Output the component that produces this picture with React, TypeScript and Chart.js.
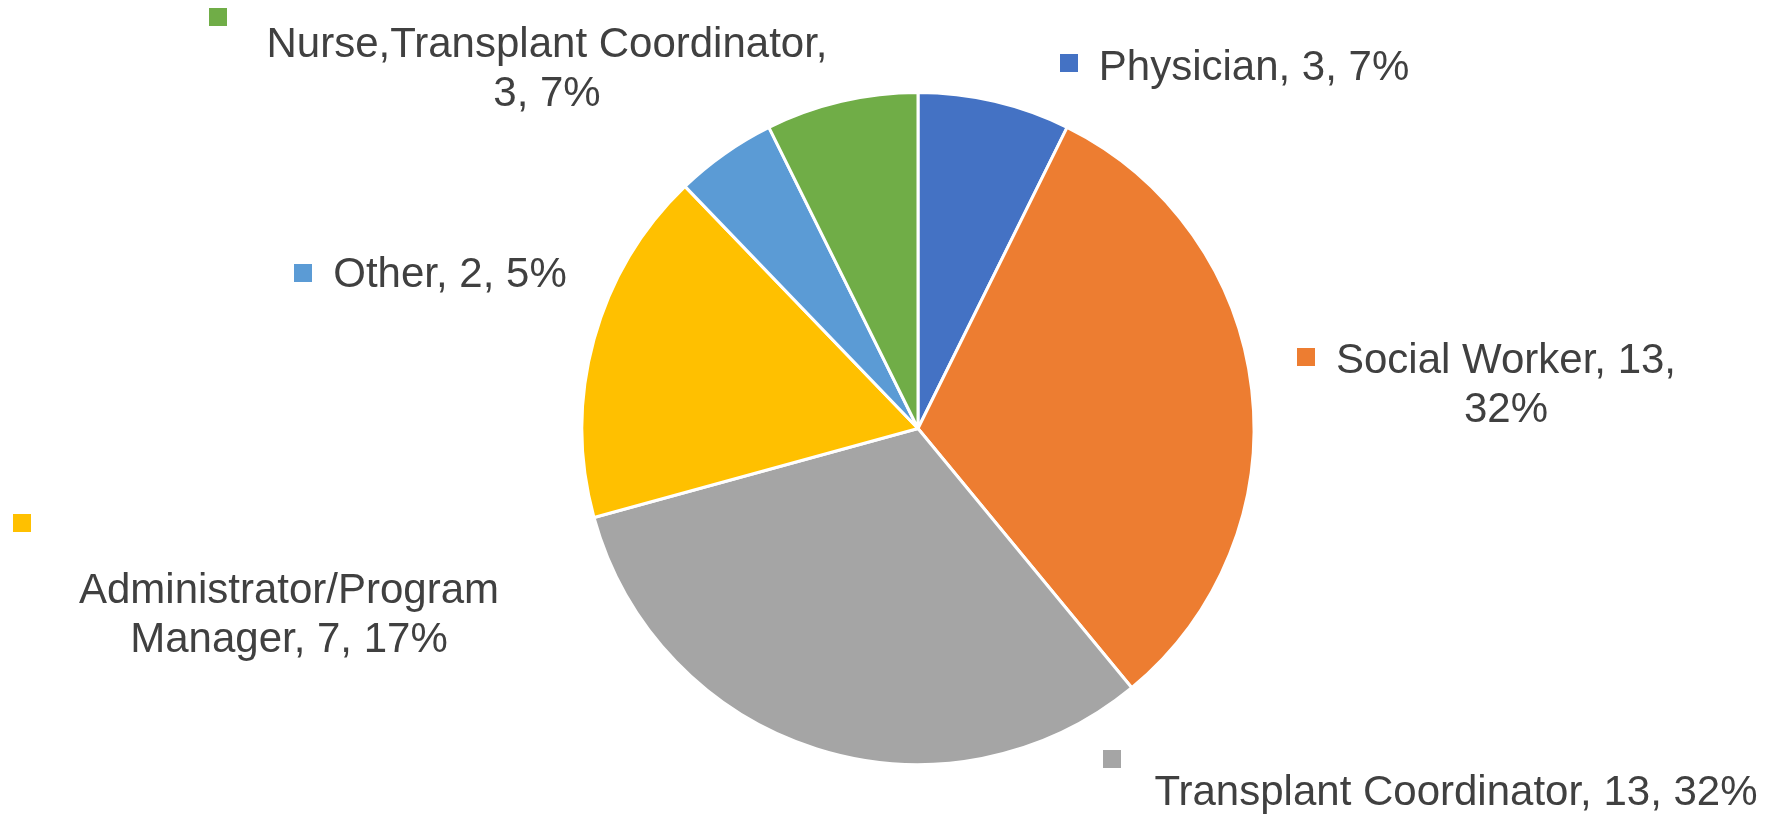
import React, { useEffect, useRef } from "react";
import { Chart, registerables } from "chart.js";

Chart.register(...registerables);

// ---- data ----
const categories: string[] = [
  "Physician",
  "Social Worker",
  "Transplant Coordinator",
  "Administrator/Program Manager",
  "Other",
  "Nurse,Transplant Coordinator",
];
const counts: number[] = [3, 13, 13, 7, 2, 3];
const sliceColors: string[] = ["#4472C4", "#ED7D31", "#A5A5A5", "#FFC000", "#5B9BD5", "#70AD47"];

// ---- label layout (positions only, pixels on the 1776x814 canvas) ----
const labelCenterX: number[] = [1254, 1506, 1456, 289, 450, 547];
const labelBaselineY: number[] = [80, 373, 805, 603, 287, 57];
const labelWrapWidth: number[] = [700, 380, 700, 450, 700, 590];
const keyX: number[] = [1060, 1297, 1103, 13, 294, 209];
const keyY: number[] = [54, 348, 750, 514, 264, 8];

const W = 1776;
const H = 814;
const FONT = '42px "Liberation Sans", Arial, sans-serif';
const LINE_H = 49;
const KEY = 18;

function wrap(ctx: CanvasRenderingContext2D, text: string, maxW: number): string[] {
  const words = text.split(" ");
  const lines: string[] = [];
  let cur = "";
  for (const w of words) {
    const test = cur ? cur + " " + w : w;
    if (cur && ctx.measureText(test).width > maxW) {
      lines.push(cur);
      cur = w;
    } else {
      cur = test;
    }
  }
  if (cur) lines.push(cur);
  return lines;
}

const labelPlugin = {
  id: "excelLabels",
  afterDraw(chart: any) {
    const ctx: CanvasRenderingContext2D = chart.ctx;
    const data: number[] = chart.data.datasets[0].data;
    const total = data.reduce((a: number, b: number) => a + b, 0);
    ctx.save();
    ctx.font = FONT;
    ctx.textAlign = "center";
    ctx.textBaseline = "alphabetic";
    data.forEach((v, i) => {
      const pct = Math.round((v / total) * 100);
      const text = `${chart.data.labels[i]}, ${v}, ${pct}%`;
      const lines = wrap(ctx, text, labelWrapWidth[i]);
      lines.forEach((ln, j) => {
        ctx.fillStyle = "#404040";
        ctx.fillText(ln, labelCenterX[i], labelBaselineY[i] + j * LINE_H);
      });
      ctx.fillStyle = sliceColors[i];
      ctx.fillRect(keyX[i], keyY[i], KEY, KEY);
    });
    ctx.restore();
  },
};

export default function App() {
  const ref = useRef<HTMLCanvasElement | null>(null);
  useEffect(() => {
    if (!ref.current) return;
    const chart = new Chart(ref.current, {
      type: "pie",
      data: {
        labels: categories,
        datasets: [
          {
            data: counts,
            backgroundColor: sliceColors,
            borderColor: "#FFFFFF",
            borderWidth: 3,
            hoverOffset: 0,
          },
        ],
      },
      options: {
        responsive: false,
        animation: false,
        devicePixelRatio: 1,
        radius: 336,
        layout: { padding: { left: 60, right: 0, top: 43, bottom: 0 } },
        plugins: {
          legend: { display: false },
          tooltip: { enabled: false },
        },
      } as any,
      plugins: [labelPlugin],
    });
    return () => chart.destroy();
  }, []);
  return (
    <div style={{ position: "absolute", left: 0, top: 0, width: W, height: H, background: "#fff" }}>
      <canvas ref={ref} width={W} height={H} style={{ width: W, height: H, display: "block" }} />
    </div>
  );
}
